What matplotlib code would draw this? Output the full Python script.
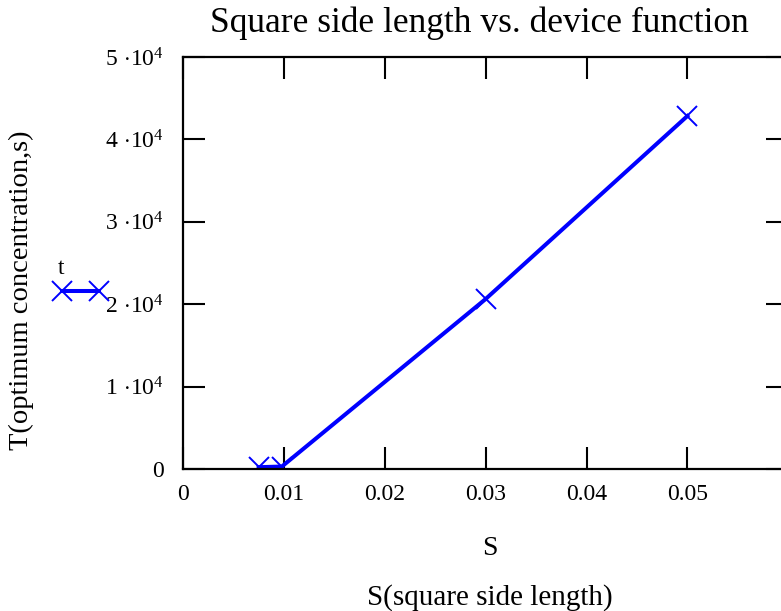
import matplotlib
matplotlib.use("Agg")
import matplotlib.pyplot as plt
from matplotlib.lines import Line2D
from matplotlib.ticker import FuncFormatter

plt.rcParams['font.family'] = ['Liberation Serif', 'DejaVu Serif']
plt.rcParams['mathtext.fontset'] = 'custom'
plt.rcParams['mathtext.rm'] = 'Liberation Serif'
plt.rcParams['mathtext.it'] = 'Liberation Serif:italic'

# side length S and time T to optimum concentration
side_length = [0.0075, 0.0098, 0.030, 0.050]
time_to_optimum = [220, 300, 20630, 42840]

x_ticks = [0, 0.01, 0.02, 0.03, 0.04, 0.05, 0.06]
x_tick_labels = ['0', '0.01', '0.02', '0.03', '0.04', '0.05', '']
y_ticks = [0, 10000, 20000, 30000, 40000, 50000]

fig = plt.figure(figsize=(7.81, 6.11), dpi=100)
ax = fig.add_axes([0.2343, 0.2324, 0.775, 0.6743])

ax.plot(side_length, time_to_optimum, color='#0000ff', linewidth=2.9,
        marker='x', markersize=15, markeredgewidth=1.4, clip_on=True)

ax.set_xlim(0, 0.06)
ax.set_ylim(0, 50000)
ax.set_xticks(x_ticks)
ax.set_xticklabels(x_tick_labels)
ax.set_yticks(y_ticks)


def y_fmt(v, _):
    if v == 0:
        return '0'
    return r'$%d\,\cdot\!10^{4}$' % round(v / 1e4)


ax.yaxis.set_major_formatter(FuncFormatter(y_fmt))

ax.tick_params(direction='in', length=16, width=1.5, top=True, right=True,
               labelsize=17, pad=11, colors='black')
ax.tick_params(axis='y', pad=14)
for s in ax.spines.values():
    s.set_linewidth(1.6)

fig.text(0.614, 0.962, 'Square side length vs. device function',
         ha='center', va='center', fontsize=25.5)
fig.text(0.627, 0.102, 'S', ha='center', va='center', fontsize=20)
fig.text(0.627, 0.022, 'S(square side length)', ha='center', va='center', fontsize=21)
fig.text(0.028, 0.525, 'T(optimum concentration,s)', ha='center', va='center',
         rotation=90, fontsize=20.5)

handle = Line2D([], [], color='#0000ff', linewidth=2.9, marker='x',
                markersize=15, markeredgewidth=1.4)
leg = fig.legend([handle], [''], title='t', numpoints=2, handlelength=3.3,
                 loc='center', bbox_to_anchor=(0.103, 0.545), frameon=False,
                 title_fontsize=17, handletextpad=0, borderpad=0)
leg._legend_box.align = 'left'

fig.savefig('out.png', dpi=100)
